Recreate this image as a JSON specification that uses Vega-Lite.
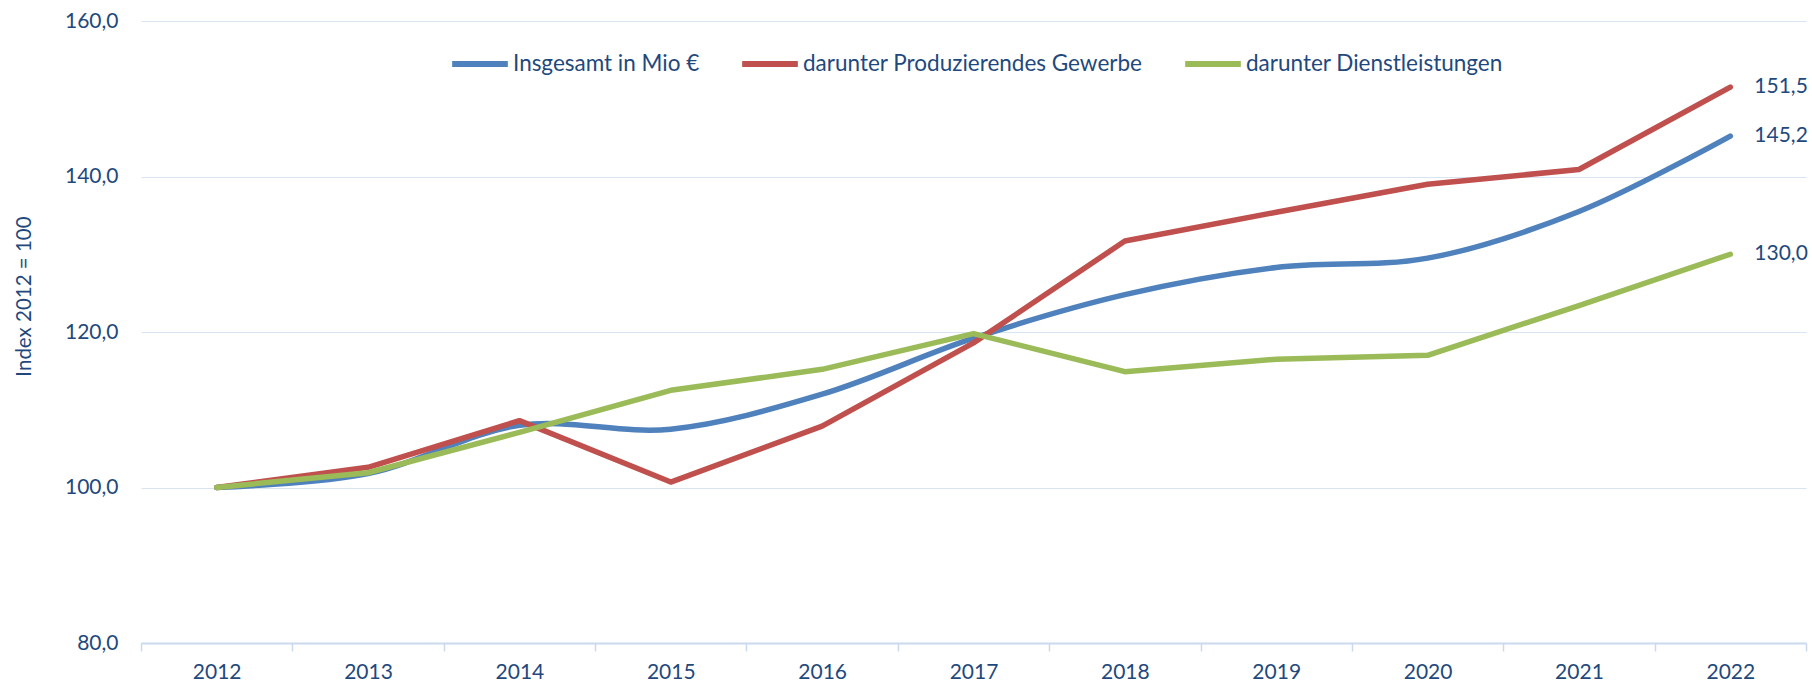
{
  "$schema": "https://vega.github.io/schema/vega-lite/v6.json",
  "autosize": {"type": "none"},
  "width": 1665,
  "height": 622,
  "padding": {"left": 141, "top": 21, "right": 6, "bottom": 42},
  "background": "white",
  "config": {
    "locale": {"number": {"decimal": ",", "thousands": ".", "grouping": [3], "currency": ["", " €"]}},
    "font": "Lato",
    "view": {"stroke": null},
    "axis": {"labelFont": "Lato", "titleFont": "Lato", "labelColor": "#1F497D", "titleColor": "#1F497D"},
    "legend": {"labelFont": "Lato", "labelColor": "#1F497D"}
  },
  "data": {
    "values": [
      {"year": "2012", "series": "Insgesamt in Mio €", "value": 100.0},
      {"year": "2013", "series": "Insgesamt in Mio €", "value": 101.8},
      {"year": "2014", "series": "Insgesamt in Mio €", "value": 108.0},
      {"year": "2015", "series": "Insgesamt in Mio €", "value": 107.5},
      {"year": "2016", "series": "Insgesamt in Mio €", "value": 112.0},
      {"year": "2017", "series": "Insgesamt in Mio €", "value": 119.2},
      {"year": "2018", "series": "Insgesamt in Mio €", "value": 124.8},
      {"year": "2019", "series": "Insgesamt in Mio €", "value": 128.3},
      {"year": "2020", "series": "Insgesamt in Mio €", "value": 129.5},
      {"year": "2021", "series": "Insgesamt in Mio €", "value": 135.5},
      {"year": "2022", "series": "Insgesamt in Mio €", "value": 145.2},
      {"year": "2012", "series": "darunter Produzierendes Gewerbe", "value": 100.0},
      {"year": "2013", "series": "darunter Produzierendes Gewerbe", "value": 102.6},
      {"year": "2014", "series": "darunter Produzierendes Gewerbe", "value": 108.6},
      {"year": "2015", "series": "darunter Produzierendes Gewerbe", "value": 100.7},
      {"year": "2016", "series": "darunter Produzierendes Gewerbe", "value": 107.9},
      {"year": "2017", "series": "darunter Produzierendes Gewerbe", "value": 118.6},
      {"year": "2018", "series": "darunter Produzierendes Gewerbe", "value": 131.7},
      {"year": "2019", "series": "darunter Produzierendes Gewerbe", "value": 135.4},
      {"year": "2020", "series": "darunter Produzierendes Gewerbe", "value": 139.0},
      {"year": "2021", "series": "darunter Produzierendes Gewerbe", "value": 140.9},
      {"year": "2022", "series": "darunter Produzierendes Gewerbe", "value": 151.5},
      {"year": "2012", "series": "darunter Dienstleistungen", "value": 100.0},
      {"year": "2013", "series": "darunter Dienstleistungen", "value": 101.9},
      {"year": "2014", "series": "darunter Dienstleistungen", "value": 107.1},
      {"year": "2015", "series": "darunter Dienstleistungen", "value": 112.5},
      {"year": "2016", "series": "darunter Dienstleistungen", "value": 115.2},
      {"year": "2017", "series": "darunter Dienstleistungen", "value": 119.8},
      {"year": "2018", "series": "darunter Dienstleistungen", "value": 114.9},
      {"year": "2019", "series": "darunter Dienstleistungen", "value": 116.5},
      {"year": "2020", "series": "darunter Dienstleistungen", "value": 117.0},
      {"year": "2021", "series": "darunter Dienstleistungen", "value": 123.4},
      {"year": "2022", "series": "darunter Dienstleistungen", "value": 130.0}
    ]
  },
  "encoding": {
    "x": {
      "field": "year", "type": "ordinal",
      "scale": {"type": "band", "paddingInner": 0, "paddingOuter": 0},
      "axis": {
        "title": null, "labelAngle": 0, "labelFontSize": 21, "labelPadding": 10,
        "tickBand": "extent", "ticks": true, "tickSize": 8, "tickColor": "#C9D9EE", "tickWidth": 1.5,
        "domainColor": "#C9D9EE", "domainWidth": 2, "grid": false
      }
    },
    "y": {
      "field": "value", "type": "quantitative",
      "scale": {"domain": [80, 160], "nice": false, "zero": false},
      "axis": {
        "title": "Index 2012 = 100", "titleFontSize": 20.5, "titleFontWeight": "normal",
        "titleX": -117, "titleY": 275, "titleAngle": -90, "titleAlign": "center", "titleBaseline": "middle",
        "values": [80, 100, 120, 140, 160], "format": ".1f",
        "labelFontSize": 21, "labelPadding": 23, "ticks": false, "domain": false,
        "grid": true, "gridColor": "#D9E4F2", "gridWidth": 1.2
      }
    },
    "color": {
      "field": "series", "type": "nominal",
      "scale": {
        "domain": ["Insgesamt in Mio €", "darunter Produzierendes Gewerbe", "darunter Dienstleistungen"],
        "range": ["#4F81BD", "#C0504D", "#9BBB59"]
      },
      "legend": {
        "title": null, "orient": "none", "direction": "horizontal", "legendX": 308, "legendY": 12,
        "symbolType": "stroke", "symbolSize": 3100, "symbolStrokeWidth": 6, "labelFontSize": 22.5,
        "labelOffset": 2, "columnPadding": 30, "labelLimit": 0
      }
    }
  },
  "layer": [
    {
      "transform": [{"filter": "datum.series === 'Insgesamt in Mio €'"}],
      "mark": {"type": "line", "interpolate": "catmull-rom", "strokeWidth": 5.5, "strokeCap": "round", "strokeJoin": "round"}
    },
    {
      "transform": [{"filter": "datum.series !== 'Insgesamt in Mio €'"}],
      "mark": {"type": "line", "strokeWidth": 5.5, "strokeCap": "round", "strokeJoin": "round"}
    },
    {
      "transform": [{"filter": "datum.year === '2022'"}],
      "mark": {"type": "text", "align": "left", "baseline": "middle", "dx": 24, "fontSize": 21, "color": "#1F497D"},
      "encoding": {
        "text": {"field": "value", "type": "quantitative", "format": ".1f"},
        "color": {"value": "#1F497D"}
      }
    }
  ]
}
